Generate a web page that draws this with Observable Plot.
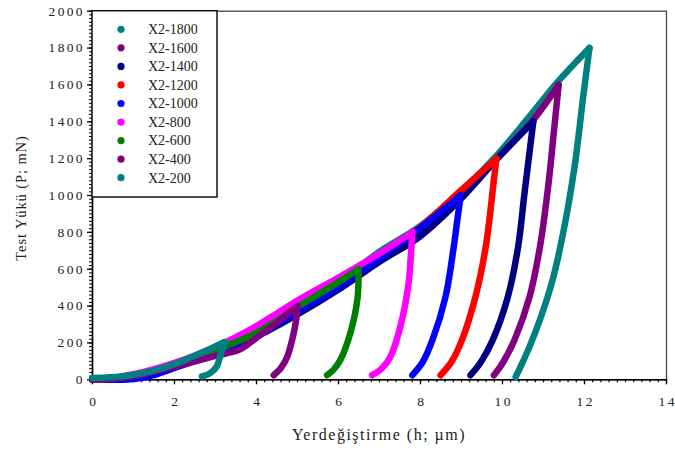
<!DOCTYPE html>
<html>
<head>
<meta charset="utf-8">
<script src="https://cdn.jsdelivr.net/npm/d3@7"></script>
<script src="https://cdn.jsdelivr.net/npm/@observablehq/plot@0.6"></script>
<style>
  body { margin: 0; background: #fff; }
  #chart svg { display: block; }
</style>
</head>
<body>
<div id="chart"></div>
<script>
// Sample names (legend order) and their colours
const names = ["X2-1800", "X2-1600", "X2-1400", "X2-1200", "X2-1000", "X2-800", "X2-600", "X2-400", "X2-200"];
const colors = ["#008080", "#800080", "#000080", "#ff0000", "#0000ff", "#ff00ff", "#008000", "#800080", "#008080"];

// Load–displacement curves: displacement h (µm) and load P (mN), loading then unloading
const h1800 = [0, 0.5, 1, 1.5, 2, 2.5, 3, 3.5, 4, 5, 6, 7, 8, 9, 9.85, 10.77, 11.33, 12.12, 11.96, 11.76, 11.5, 11.22, 10.92, 10.66, 10.45, 10.32];
const p1800 = [0, 8, 25, 50, 85, 122, 165, 210, 260, 390, 530, 695, 835, 1025, 1215, 1460, 1612, 1800, 1520, 1160, 820, 540, 330, 180, 75, 15];

const h1600 = [0, 0.5, 1, 1.5, 2, 2.5, 3, 3.5, 4, 5, 6, 7, 8, 9, 9.85, 10.75, 11.37, 11.25, 11.12, 10.92, 10.66, 10.29, 10.0, 9.79];
const p1600 = [0, 6, 20, 42, 75, 112, 152, 198, 245, 372, 512, 660, 812, 995, 1195, 1410, 1600, 1340, 1060, 730, 450, 215, 90, 25];

const h1400 = [0, 0.5, 1, 1.5, 2, 2.5, 3, 3.5, 4, 5, 6, 7, 8, 9, 9.85, 10.75, 10.64, 10.53, 10.38, 10.13, 9.76, 9.47, 9.22];
const p1400 = [0, 5, 18, 38, 70, 105, 145, 188, 235, 355, 490, 640, 780, 985, 1195, 1400, 1200, 1000, 720, 450, 215, 95, 25];

const h1200 = [0, 0.5, 1, 1.5, 2, 2.5, 3, 3.5, 4, 5, 6, 7, 8, 9, 9.85, 9.79, 9.59, 9.34, 9.01, 8.75, 8.49];
const p1200 = [0, 7, 22, 46, 80, 118, 160, 205, 250, 380, 520, 670, 830, 1030, 1200, 1085, 720, 450, 215, 95, 25];

const h1000 = [0, 0.5, 1, 1.5, 2, 2.5, 3, 3.5, 4, 5, 6, 7, 8, 8.98, 8.9, 8.81, 8.61, 8.29, 8.05, 7.8];
const p1000 = [0, 0, 4, 26, 64, 102, 145, 192, 245, 370, 505, 660, 825, 1000, 870, 720, 450, 215, 95, 25];

const h800 = [0, 0.5, 1, 1.5, 2, 2.5, 3, 3.5, 4, 4.5, 5, 6, 7, 7.8, 7.76, 7.71, 7.51, 7.27, 7.05, 6.82];
const p800 = [0, 10, 30, 58, 92, 132, 178, 232, 292, 360, 430, 555, 685, 800, 660, 525, 290, 127, 60, 25];

const h600 = [0, 0.5, 1, 1.5, 2, 2.5, 3, 3.5, 4, 4.5, 5, 5.5, 6, 6.49, 6.46, 6.29, 6.05, 5.88, 5.72];
const p600 = [0, 7, 22, 47, 80, 118, 160, 205, 255, 320, 395, 462, 530, 600, 435, 255, 110, 55, 25];

const h400 = [0, 0.5, 1, 1.5, 2, 2.5, 3, 3.6, 4, 4.5, 5.0, 4.97, 4.91, 4.75, 4.6, 4.42];
const p400 = [0, 6, 20, 44, 72, 100, 130, 165, 228, 310, 400, 330, 255, 125, 65, 25];

const h200 = [0, 0.7, 1.2, 1.55, 2, 2.37, 2.8, 3.22, 3.11, 3.03, 2.87, 2.67];
const p200 = [10, 18, 35, 54, 85, 119, 160, 205, 126, 72, 36, 18];

const curves = [[h1800, p1800], [h1600, p1600], [h1400, p1400], [h1200, p1200], [h1000, p1000],
                [h800, p800], [h600, p600], [h400, p400], [h200, p200]];

// Axis ticks
const xMajor = [0, 2, 4, 6, 8, 10, 12, 14];
const yMajor = [0, 200, 400, 600, 800, 1000, 1200, 1400, 1600, 1800, 2000];
const xMinor = d3.ticks(0, 14, 70);
const yMinor = d3.ticks(0, 2000, 100);

// Long-format rows; each curve is split at its peak into loading and unloading branches
const rows = names.map((name, i) => {
  const [hs, ps] = curves[i];
  const peak = d3.maxIndex(ps);
  const out = [];
  hs.forEach((h, j) => {
    if (j <= peak) out.push({name, part: "load", h, p: ps[j]});
    if (j >= peak) out.push({name, part: "unload", h, p: ps[j]});
  });
  return out;
});

const lineMarks = names.map((name, i) =>
  Plot.line(rows[i], {
    x: "h", y: "p", z: "part",
    stroke: colors[i], strokeWidth: 6.5,
    strokeLinecap: "round", strokeLinejoin: "round",
    curve: "catmull-rom"
  })
);

const serif = "'Liberation Serif', 'Times New Roman', serif";

const chart = Plot.plot({
  width: 675,
  height: 450,
  marginLeft: 92,
  marginRight: 9,
  marginTop: 10.7,
  marginBottom: 70.7,
  style: {fontFamily: serif, fontSize: "13.5px", color: "#000", background: "#fff"},
  x: {domain: [0, 14]},
  y: {domain: [0, 2000]},
  marks: [
    Plot.frame({stroke: "#444", strokeWidth: 1.3}),
    Plot.axisX(xMinor, {tickSize: 3, text: null, label: null, strokeWidth: 1.2}),
    Plot.axisY(yMinor, {tickSize: 3, text: null, label: null, strokeWidth: 1}),
    Plot.axisX(xMajor, {tickSize: 5, tickPadding: 12, label: null, strokeWidth: 1.3, fill: "#222", tickFormat: d => String(d)}),
    Plot.axisY(yMajor, {tickSize: 5, tickPadding: 5, label: null, strokeWidth: 1.3, fill: "#222", tickFormat: d => String(d)}),
    Plot.ruleX([0], {stroke: "#000", strokeWidth: 1.5}),
    Plot.ruleY([0], {stroke: "#000", strokeWidth: 1.5}),
    ...lineMarks
  ]
});

document.getElementById("chart").append(chart);

const svg = d3.select(chart);

// Spread the digits of the tick labels a little
svg.selectAll("text").each(function () {
  const n = this.textContent.length;
  if (n < 2) return;
  const w = this.getComputedTextLength();
  this.setAttribute("textLength", (w + (n - 1) * 2.3).toFixed(1));
  this.setAttribute("lengthAdjust", "spacing");
});

// Legend box in the upper-left corner of the plotting area
const legend = svg.append("g")
  .attr("font-family", serif)
  .attr("text-anchor", "start");
legend.append("rect")
  .attr("x", 92).attr("y", 10.7)
  .attr("width", 125).attr("height", 186.3)
  .attr("fill", "#fff").attr("stroke", "#111").attr("stroke-width", 1.5);
names.forEach((name, i) => {
  const cy = 29.3 + i * 18.55;
  legend.append("circle").attr("cx", 121).attr("cy", cy).attr("r", 3.6).attr("fill", colors[i]);
  legend.append("text")
    .attr("x", 148).attr("y", cy + 4.8)
    .attr("text-anchor", "start")
    .attr("font-size", 14).attr("fill", "#222").text(name);
});

// Axis titles
svg.append("text")
  .attr("x", 379).attr("y", 440)
  .attr("text-anchor", "middle")
  .attr("font-family", serif)
  .attr("font-size", 16).style("letter-spacing", "1.5px").attr("fill", "#222")
  .text("Yerdeğiştirme (h; µm)");

svg.append("text")
  .attr("transform", "translate(26,198) rotate(-90)")
  .attr("text-anchor", "middle")
  .attr("font-family", serif)
  .attr("font-size", 14.5).style("letter-spacing", "0.9px").attr("fill", "#222")
  .text("Test Yükü (P; mN)");
</script>
</body>
</html>
